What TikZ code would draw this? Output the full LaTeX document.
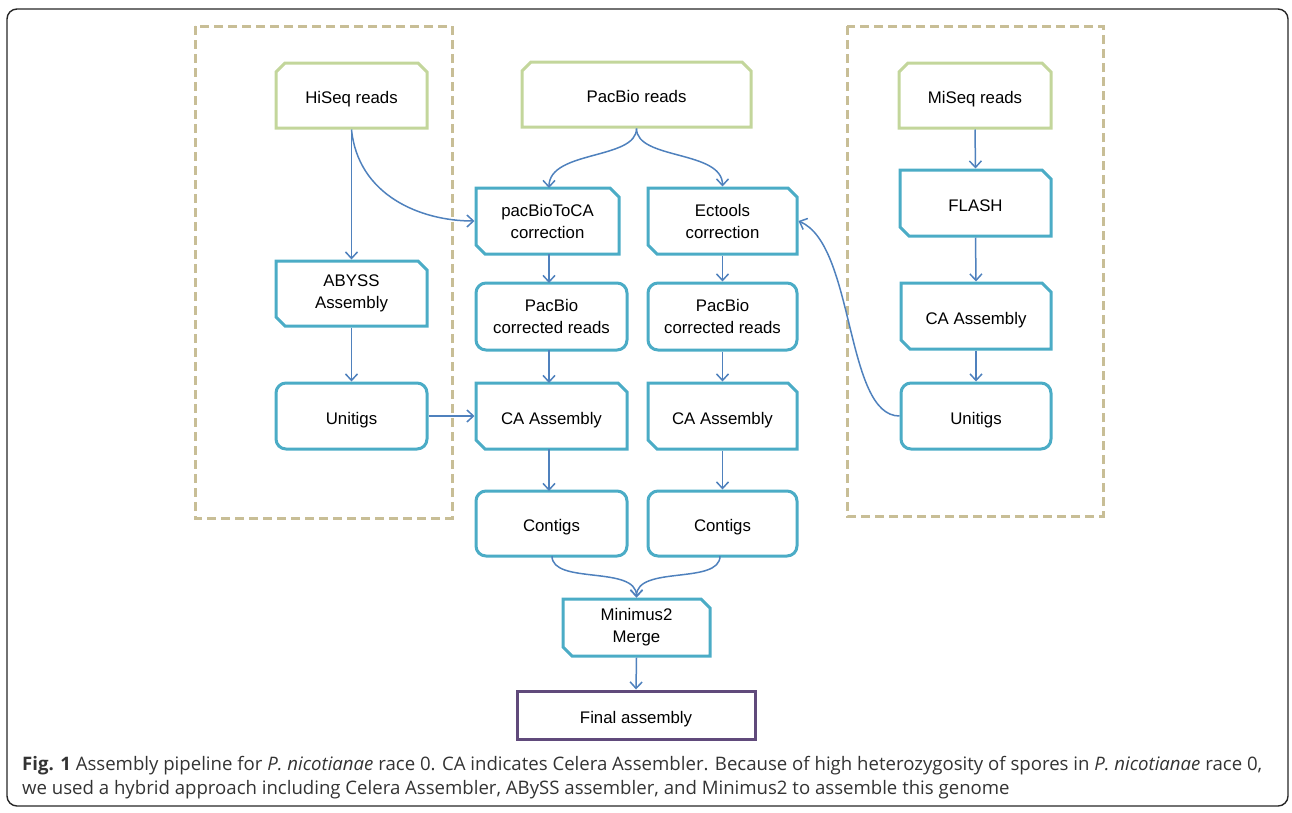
\documentclass[tikz,border=0pt]{standalone}
\usepackage{fontspec}
\setmainfont{Liberation Sans}
\newfontfamily\capfont{Open Sans}
\usetikzlibrary{shapes.misc,arrows.meta}
\definecolor{greenb}{RGB}{195,214,155}
\definecolor{blueb}{RGB}{75,172,198}
\definecolor{arrowc}{RGB}{79,129,189}
\definecolor{purpleb}{RGB}{96,74,123}
\definecolor{tanb}{RGB}{200,190,150}
\tikzset{
  base/.style={line width=3pt, fill=white, align=center, inner sep=0pt,
    font=\fontsize{16.8}{22}\selectfont, text=black},
  one/.style={text height=16pt, text depth=0pt},
  readsbox/.style={base, draw=greenb, chamfered rectangle,
    chamfered rectangle xsep=4.5pt, chamfered rectangle ysep=4.5pt,
    chamfered rectangle corners={north west,north east}},
  procbox/.style={base, draw=blueb, chamfered rectangle,
    chamfered rectangle xsep=4.5pt, chamfered rectangle ysep=4.5pt,
    chamfered rectangle corners={north east,south west}},
  databox/.style={base, draw=blueb, rectangle, rounded corners=10pt},
  finalbox/.style={base, draw=purpleb, rectangle},
  arr/.style={draw=arrowc, line width=1.5pt, -{Straight Barb[length=6.5pt,width=12pt]}},
  dashbox/.style={draw=tanb, line width=3pt, dash pattern=on 9pt off 5pt},
}
\begin{document}
\begin{tikzpicture}[x=1pt,y=-1pt]
\useasboundingbox (0,0) rectangle (1292,812);
\draw[line width=1.4pt, draw=black!85, rounded corners=10pt] (7,9) rectangle (1288,806);
\draw[dashbox] (195,26) rectangle (452,518);
\draw[dashbox] (847,26) rectangle (1103,516);

\node[readsbox, one, minimum width=151pt, minimum height=65pt] (hiseq) at (351.5,95.5) {HiSeq reads};
\node[readsbox, one, minimum width=229pt, minimum height=65pt] (pacbio) at (636.5,94.5) {PacBio reads};
\node[readsbox, one, minimum width=152pt, minimum height=65pt] (miseq) at (975,95.5) {MiSeq reads};

\node[procbox, minimum width=143pt, minimum height=66pt] (ptca) at (547.5,221) {pacBioToCA\\correction};
\node[procbox, minimum width=149pt, minimum height=66pt] (ect) at (722.5,221) {Ectools\\correction};
\node[procbox, one, minimum width=151pt, minimum height=66pt] (flash) at (975.5,203) {FLASH};
\node[procbox, minimum width=151pt, minimum height=65pt, text depth=4pt] (abyss) at (351.5,293.5) {ABYSS\\Assembly};

\node[databox, minimum width=151pt, minimum height=67pt] (pcr1) at (551.5,316.5) {PacBio\\corrected reads};
\node[databox, minimum width=149pt, minimum height=67pt] (pcr2) at (722.5,316.5) {PacBio\\corrected reads};
\node[procbox, one, minimum width=150pt, minimum height=66pt] (ca3) at (976,316) {CA Assembly};

\node[databox, one, minimum width=151pt, minimum height=66pt] (uni1) at (351.5,416) {Unitigs};
\node[procbox, one, minimum width=151pt, minimum height=66pt] (ca1) at (551.5,416) {CA Assembly};
\node[procbox, one, minimum width=149pt, minimum height=66pt] (ca2) at (722.5,416) {CA Assembly};
\node[databox, one, minimum width=150pt, minimum height=66pt] (uni2) at (976,416) {Unitigs};

\node[databox, one, minimum width=151pt, minimum height=65pt] (con1) at (551.5,523.5) {Contigs};
\node[databox, one, minimum width=149pt, minimum height=65pt] (con2) at (722.5,523.5) {Contigs};
\node[procbox, minimum width=147pt, minimum height=57pt] (mini) at (636.5,627.5) {Minimus2\\Merge};
\node[finalbox, one, minimum width=238pt, minimum height=48pt] (final) at (636,715) {Final assembly};

% left column
\draw[arr] (hiseq.south) -- (abyss.north);
\draw[arr] (abyss.south) -- (uni1.north);
\draw[arr] (uni1.east) -- (ca1.west);
\draw[arr] (hiseq.south) .. controls (358,195) and (420,221) .. (ptca.west);
% pacbio split
\draw[arr] (pacbio.south) .. controls (636.5,160) and (549,150) .. (549,188);
\draw[arr] (pacbio.south) .. controls (636.5,160) and (722.5,150) .. (ect.north);
% middle columns
\draw[arr] (549,254) -- (549,283);
\draw[arr] (ect.south) -- (pcr2.north);
\draw[arr] (549,350) -- (549,383);
\draw[arr] (pcr2.south) -- (ca2.north);
\draw[arr] (549,449) -- (549,491);
\draw[arr] (ca2.south) -- (con2.north);
\draw[arr] (552,556) .. controls (552,585) and (636.5,565) .. (mini.north);
\draw[arr] (720,556) .. controls (720,585) and (636.5,565) .. (mini.north);
\draw[arr] (mini.south) -- (final.north);
% right column
\draw[arr] (miseq.south) -- (flash.north);
\draw[arr] (flash.south) -- (ca3.north);
\draw[arr] (ca3.south) -- (uni2.north);
\draw[arr] (uni2.west) .. controls (845,416) and (855,245) .. (ect.east);

% caption
\node[anchor=north west, align=left, inner sep=0pt, text=black!80,
      font=\capfont\fontsize{18.6}{24}\selectfont] (cap) at (22,756)
  {\textbf{Fig. 1} Assembly pipeline for \textit{P. nicotianae} race 0. CA indicates Celera Assembler. Because of high heterozygosity of spores in \textit{P. nicotianae} race 0,\\
   we used a hybrid approach including Celera Assembler, ABySS assembler, and Minimus2 to assemble this genome};
\end{tikzpicture}
\end{document}
